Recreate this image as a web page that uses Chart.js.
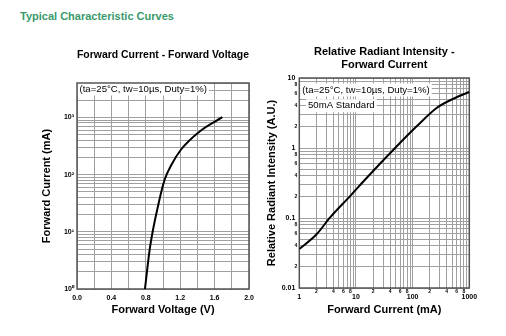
<!DOCTYPE html>
<html><head><meta charset="utf-8">
<script src="https://cdn.jsdelivr.net/npm/chart.js@4/dist/chart.umd.min.js"></script>
<style>
html,body{margin:0;padding:0;background:#fff;width:506px;height:336px;overflow:hidden;}
#hdr{position:absolute;left:20px;top:10px;font:bold 11px "Liberation Sans",Arial,sans-serif;line-height:13px;color:#3a9a6c;white-space:nowrap;}
#c1{position:absolute;left:0;top:0;}
#c2{position:absolute;left:255px;top:0;}
</style></head><body>
<div id="hdr">Typical Characteristic Curves</div>
<canvas id="c1" width="260" height="336"></canvas>
<canvas id="c2" width="251" height="336"></canvas>
<script>
const FONT = '"Liberation Sans", Arial, sans-serif';

// ---- Chart 1: Forward Current - Forward Voltage ----
const fvVoltage = [0.79, 0.85, 0.95, 1.02, 1.10, 1.21, 1.43, 1.69];
const fvCurrent = [1, 5.5, 32, 82, 150, 275, 575, 1010];
const fvXTickLabels = ['0.0', '0.4', '0.8', '1.2', '1.6', '2.0'];
const fvYTickLabels = ['10\u2070', '10\u00B9', '10\u00B2', '10\u00B3'];
const fvXRange = [0, 2];
const fvYRange = [1, 4000];

// ---- Chart 2: Relative Radiant Intensity - Forward Current ----
const riCurrent = [1, 2, 3.5, 7.8, 14.4, 52, 118, 265, 683, 1000];
const riIntensity = [0.036, 0.058, 0.102, 0.204, 0.352, 1.05, 2.04, 3.73, 5.58, 6.3];
const riXMajorLabels = ['1', '10', '100', '1000'];
const riYMajorLabels = ['0.01', '0.1', '1', '10'];
const riMinorLabels = ['2', '4', '6', '8'];
const riXRange = [1, 1000];
const riYRange = [0.01, 10];

const decadeSteps = [1, 2, 3, 4, 5, 6, 7, 8, 9];
const conditionText = '(ta=25\u00B0C, tw=10\u00B5s, Duty=1%)';
const standardText = '50mA Standard';

const GRID = '#a0a0a0';

function logTicks(min, max) {
  const out = [];
  const e0 = Math.floor(Math.log10(min) + 1e-9), e1 = Math.ceil(Math.log10(max) - 1e-9);
  for (let e = e0; e <= e1; e++) {
    for (const s of decadeSteps) {
      const v = parseFloat((s * Math.pow(10, e)).toPrecision(6));
      if (v >= min * (1 - 1e-9) && v <= max * (1 + 1e-9)) out.push(v);
    }
  }
  if (Math.abs(out[out.length - 1] - max) > max * 1e-9) out.push(max);
  return out.map(v => ({ value: v }));
}
function isPow10(v) {
  const l = Math.log10(v);
  return Math.abs(l - Math.round(l)) < 1e-6;
}
function logLabel(v, min, majors, minors) {
  if (isPow10(v)) {
    const i = Math.round(Math.log10(v)) - Math.round(Math.log10(min));
    return majors[i] !== undefined ? majors[i] : '';
  }
  const sig = Math.round(v / Math.pow(10, Math.floor(Math.log10(v) + 1e-9)));
  return minors.includes(String(sig)) ? String(sig) : '';
}

const notePlugin = {
  id: 'notes',
  beforeDatasetsDraw(chart, args, opts) {
    const { ctx, chartArea: a } = chart;
    ctx.save();
    ctx.font = '9.6px ' + FONT;
    ctx.textBaseline = 'middle';
    ctx.textAlign = 'left';
    for (const n of opts.items) {
      const w = ctx.measureText(n.text).width;
      const x = a.left + n.dx, y = a.top + n.dy;
      ctx.fillStyle = '#fff';
      ctx.fillRect(x - 2, y - 6.5, w + 4, 13);
      ctx.fillStyle = '#000';
      ctx.fillText(n.text, x, y);
    }
    ctx.strokeStyle = '#555';
    ctx.lineWidth = 1.5;
    ctx.strokeRect(a.left, a.top, a.right - a.left, a.bottom - a.top);
    ctx.restore();
  }
};

const titleFont = { family: FONT, size: 11, weight: 'bold' };

new Chart(document.getElementById('c1'), {
  type: 'line',
  data: {
    datasets: [{
      data: fvVoltage.map((v, i) => ({ x: v, y: fvCurrent[i] })),
      borderColor: '#000', borderWidth: 2, pointRadius: 0,
      cubicInterpolationMode: 'monotone', fill: false
    }]
  },
  plugins: [notePlugin],
  options: {
    responsive: false, animation: false,
    layout: { padding: { left: 0, right: 11, top: 0, bottom: 0 } },
    plugins: {
      legend: { display: false }, tooltip: { enabled: false },
      title: {
        display: true, text: 'Forward Current - Forward Voltage', color: '#000',
        font: titleFont, fullSize: false, padding: { top: 48.4, bottom: 21.4 }
      },
      notes: { items: [{ text: conditionText, dx: 2.5, dy: 6 }] }
    },
    scales: {
      x: {
        type: 'linear', min: fvXRange[0], max: fvXRange[1],
        afterFit(s) { s.height = 47; },
        grid: { color: GRID, lineWidth: 1, drawTicks: false },
        border: { display: false },
        ticks: {
          stepSize: 0.2, autoSkip: false, maxRotation: 0, padding: 2, color: '#000',
          font: { family: FONT, size: 7, weight: 'bold', lineHeight: 2 },
          callback: (v, i) => (i % 2 === 0 ? fvXTickLabels[i / 2] : '')
        },
        title: {
          display: true, text: 'Forward Voltage (V)', color: '#000', font: titleFont,
          padding: { top: 0, bottom: 19.4 }
        }
      },
      y: {
        type: 'logarithmic', min: fvYRange[0], max: fvYRange[1],
        afterBuildTicks(s) { s.ticks = logTicks(fvYRange[0], fvYRange[1]); },
        afterFit(s) { s.width = 77; },
        grid: { color: GRID, lineWidth: 1, drawTicks: false },
        border: { display: false },
        ticks: {
          autoSkip: false, padding: 3, color: '#000',
          font: { family: FONT, size: 7, weight: 'bold' },
          callback: (v) => logLabel(v, fvYRange[0], fvYTickLabels, [])
        },
        title: {
          display: true, text: 'Forward Current (mA)', color: '#000', font: titleFont,
          padding: { top: 39.9, bottom: 0 }
        }
      }
    }
  }
});

new Chart(document.getElementById('c2'), {
  type: 'line',
  data: {
    datasets: [{
      data: riCurrent.map((v, i) => ({ x: v, y: riIntensity[i] })),
      borderColor: '#000', borderWidth: 2, pointRadius: 0,
      cubicInterpolationMode: 'monotone', fill: false
    }]
  },
  plugins: [notePlugin],
  options: {
    responsive: false, animation: false,
    layout: { padding: { left: 0, right: 36.7, top: 0, bottom: 0 } },
    plugins: {
      legend: { display: false }, tooltip: { enabled: false },
      title: {
        display: true, text: ['Relative Radiant Intensity -', 'Forward Current'], color: '#000',
        font: { family: FONT, size: 11, weight: 'bold', lineHeight: 13 / 11 },
        fullSize: false, padding: { top: 45.5, bottom: 6.5 }
      },
      notes: {
        items: [
          { text: conditionText, dx: 3, dy: 12 },
          { text: standardText, dx: 8.7, dy: 27.7 }
        ]
      }
    },
    scales: {
      x: {
        type: 'logarithmic', min: riXRange[0], max: riXRange[1],
        afterBuildTicks(s) { s.ticks = logTicks(riXRange[0], riXRange[1]); },
        afterFit(s) { s.height = 48; },
        grid: { color: GRID, lineWidth: 1, drawTicks: false },
        border: { display: false },
        ticks: {
          autoSkip: false, maxRotation: 0, padding: 2, color: '#000',
          font: (c) => (c.tick && isPow10(c.tick.value))
            ? { family: FONT, size: 7, weight: 'bold', lineHeight: 2 }
            : { family: FONT, size: 5, weight: 'bold', lineHeight: 0.5 },
          callback: (v) => logLabel(v, riXRange[0], riXMajorLabels, riMinorLabels)
        },
        title: {
          display: true, text: 'Forward Current (mA)', color: '#000', font: titleFont,
          padding: { top: 0, bottom: 19.4 }
        }
      },
      y: {
        type: 'logarithmic', min: riYRange[0], max: riYRange[1],
        afterBuildTicks(s) { s.ticks = logTicks(riYRange[0], riYRange[1]); },
        afterFit(s) { s.width = 44.3; },
        grid: { color: GRID, lineWidth: 1, drawTicks: false },
        border: { display: false },
        ticks: {
          autoSkip: false, padding: 2, color: '#000',
          font: (c) => (c.tick && isPow10(c.tick.value))
            ? { family: FONT, size: 7, weight: 'bold' }
            : { family: FONT, size: 5, weight: 'bold' },
          callback: (v) => {
            const l = logLabel(v, riYRange[0], riYMajorLabels, riMinorLabels);
            return isPow10(v) ? l + ' ' : l;
          }
        },
        title: {
          display: true, text: 'Relative Radiant Intensity (A.U.)', color: '#000', font: titleFont,
          padding: { top: 10.4, bottom: 0 }
        }
      }
    }
  }
});
</script>
</body></html>
